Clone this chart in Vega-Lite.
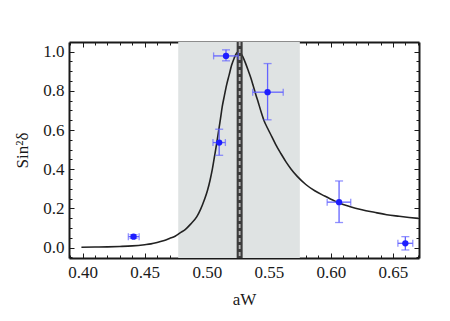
{
  "$schema": "https://vega.github.io/schema/vega-lite/v6.json",
  "width": 350,
  "height": 216,
  "autosize": {"type": "none"},
  "padding": {"left": 69, "top": 42, "right": 31, "bottom": 63},
  "background": "white",
  "config": {
    "view": {"stroke": null},
    "axis": {
      "zindex": 1,
      "grid": false,
      "labelFont": "Liberation Serif",
      "titleFont": "Liberation Serif",
      "labelFontSize": 17,
      "titleFontSize": 17,
      "titleFontWeight": "normal",
      "labelColor": "#1a1a1a",
      "titleColor": "#1a1a1a",
      "tickColor": "#1a1a1a",
      "domainColor": "#1a1a1a",
      "domainWidth": 2,
      "tickWidth": 1
    }
  },
  "resolve": {"axis": {"x": "independent", "y": "independent"}},
  "datasets": {
    "band": [{"lo": 0.477, "hi": 0.575}],
    "peak": [{"x": 0.5265}],
    "curve": [
      {"x": 0.399, "y": 0.002}, {"x": 0.41, "y": 0.003}, {"x": 0.42, "y": 0.004},
      {"x": 0.43, "y": 0.006}, {"x": 0.44, "y": 0.009}, {"x": 0.45, "y": 0.015},
      {"x": 0.455, "y": 0.019}, {"x": 0.46, "y": 0.026}, {"x": 0.465, "y": 0.035},
      {"x": 0.47, "y": 0.047}, {"x": 0.4745, "y": 0.058}, {"x": 0.4785, "y": 0.075},
      {"x": 0.4826, "y": 0.092}, {"x": 0.487, "y": 0.12}, {"x": 0.492, "y": 0.158},
      {"x": 0.495, "y": 0.195}, {"x": 0.498, "y": 0.243}, {"x": 0.5005, "y": 0.29},
      {"x": 0.5027, "y": 0.345}, {"x": 0.5045, "y": 0.4}, {"x": 0.5061, "y": 0.46},
      {"x": 0.5077, "y": 0.52}, {"x": 0.5093, "y": 0.585}, {"x": 0.511, "y": 0.655},
      {"x": 0.5125, "y": 0.72}, {"x": 0.5142, "y": 0.775}, {"x": 0.516, "y": 0.83},
      {"x": 0.518, "y": 0.88}, {"x": 0.52, "y": 0.93}, {"x": 0.522, "y": 0.965},
      {"x": 0.5241, "y": 0.993}, {"x": 0.5255, "y": 1.0}, {"x": 0.527, "y": 0.994},
      {"x": 0.529, "y": 0.975}, {"x": 0.5316, "y": 0.935}, {"x": 0.5336, "y": 0.9},
      {"x": 0.5356, "y": 0.864}, {"x": 0.5376, "y": 0.822}, {"x": 0.5396, "y": 0.779},
      {"x": 0.5417, "y": 0.737}, {"x": 0.5437, "y": 0.694}, {"x": 0.546, "y": 0.65},
      {"x": 0.549, "y": 0.609}, {"x": 0.5525, "y": 0.565}, {"x": 0.5557, "y": 0.524},
      {"x": 0.5597, "y": 0.48}, {"x": 0.5637, "y": 0.439}, {"x": 0.568, "y": 0.4},
      {"x": 0.5731, "y": 0.362}, {"x": 0.5798, "y": 0.322}, {"x": 0.587, "y": 0.29},
      {"x": 0.595, "y": 0.263}, {"x": 0.603, "y": 0.238}, {"x": 0.6066, "y": 0.228},
      {"x": 0.615, "y": 0.21}, {"x": 0.625, "y": 0.193}, {"x": 0.635, "y": 0.18},
      {"x": 0.645, "y": 0.168}, {"x": 0.655, "y": 0.16}, {"x": 0.663, "y": 0.154},
      {"x": 0.6705, "y": 0.149}
    ],
    "pts": [
      {"x": 0.441, "y": 0.056, "xlo": 0.4368, "xhi": 0.4455, "ylo": 0.047, "yhi": 0.066},
      {"x": 0.510, "y": 0.536, "xlo": 0.505, "xhi": 0.515, "ylo": 0.471, "yhi": 0.604},
      {"x": 0.5155, "y": 0.978, "xlo": 0.5055, "xhi": 0.5254, "ylo": 0.953, "yhi": 1.009},
      {"x": 0.549, "y": 0.793, "xlo": 0.537, "xhi": 0.5616, "ylo": 0.652, "yhi": 0.939},
      {"x": 0.6066, "y": 0.232, "xlo": 0.597, "xhi": 0.616, "ylo": 0.128, "yhi": 0.34},
      {"x": 0.660, "y": 0.022, "xlo": 0.654, "xhi": 0.666, "ylo": -0.012, "yhi": 0.056}
    ]
  },
  "layer": [
    {
      "data": {"name": "band"},
      "mark": {"type": "rect", "color": "#dfe3e3"},
      "encoding": {
        "x": {"field": "lo", "type": "quantitative",
              "scale": {"domain": [0.389, 0.671], "nice": false, "zero": false},
              "axis": {"orient": "bottom", "values": [0.4, 0.45, 0.5, 0.55, 0.6, 0.65], "format": ".2f",
                       "ticks": false, "domain": true, "labelPadding": 6, "title": "aW", "titlePadding": 11}},
        "x2": {"field": "hi"}
      }
    },
    {
      "data": {"name": "curve"},
      "mark": {"type": "line", "color": "#222222", "strokeWidth": 1.6, "interpolate": "monotone"},
      "encoding": {
        "x": {"field": "x", "type": "quantitative",
              "axis": {"orient": "bottom", "values": [0.4, 0.45, 0.5, 0.55, 0.6, 0.65], "labels": false,
                       "domain": false, "tickSize": -5, "title": null}},
        "y": {"field": "y", "type": "quantitative",
              "scale": {"domain": [-0.053, 1.049], "nice": false, "zero": false},
              "axis": {"orient": "left", "values": [0, 0.2, 0.4, 0.6, 0.8, 1.0], "format": ".1f",
                       "ticks": false, "domain": true, "labelPadding": 5, "title": "Sin²δ", "titlePadding": 11}}
      }
    },
    {
      "data": {"name": "peak"},
      "mark": {"type": "rule", "color": "#3c3c3c", "strokeWidth": 6},
      "encoding": {
        "x": {"field": "x", "type": "quantitative",
              "axis": {"orient": "bottom", "values": [0.39, 0.41, 0.42, 0.43, 0.44, 0.46, 0.47, 0.48, 0.49, 0.51, 0.52, 0.53, 0.54, 0.56, 0.57, 0.58, 0.59, 0.61, 0.62, 0.63, 0.64, 0.66, 0.67],
                       "labels": false, "domain": false, "tickSize": -3, "title": null}}
      }
    },
    {
      "data": {"name": "peak"},
      "mark": {"type": "rule", "color": "#b4b4b4", "strokeWidth": 1.8, "strokeDash": [4, 3]},
      "encoding": {
        "x": {"field": "x", "type": "quantitative",
              "axis": {"orient": "top", "values": [0.4, 0.45, 0.5, 0.55, 0.6, 0.65], "labels": false,
                       "domain": true, "tickSize": -5, "title": null}}
      }
    },
    {
      "data": {"name": "pts"},
      "mark": {"type": "rule", "color": "#6464ff", "strokeWidth": 1.3},
      "encoding": {
        "x": {"field": "xlo", "type": "quantitative",
              "axis": {"orient": "top", "values": [0.39, 0.41, 0.42, 0.43, 0.44, 0.46, 0.47, 0.48, 0.49, 0.51, 0.52, 0.53, 0.54, 0.56, 0.57, 0.58, 0.59, 0.61, 0.62, 0.63, 0.64, 0.66, 0.67],
                       "labels": false, "domain": false, "tickSize": -3, "title": null}},
        "x2": {"field": "xhi"},
        "y": {"field": "y", "type": "quantitative",
              "axis": {"orient": "left", "values": [-0.05, 0.05, 0.1, 0.15, 0.25, 0.3, 0.35, 0.45, 0.5, 0.55, 0.65, 0.7, 0.75, 0.85, 0.9, 0.95],
                       "labels": false, "domain": false, "tickSize": -3, "title": null}}
      }
    },
    {
      "data": {"name": "pts"},
      "mark": {"type": "rule", "color": "#6464ff", "strokeWidth": 1.3},
      "encoding": {
        "x": {"field": "x", "type": "quantitative", "axis": null},
        "y": {"field": "ylo", "type": "quantitative",
              "axis": {"orient": "right", "values": [0, 0.2, 0.4, 0.6, 0.8, 1.0], "labels": false,
                       "domain": true, "tickSize": -5, "title": null}},
        "y2": {"field": "yhi"}
      }
    },
    {
      "data": {"name": "pts"},
      "mark": {"type": "tick", "orient": "vertical", "color": "#6464ff", "size": 7, "thickness": 1.3},
      "encoding": {
        "x": {"field": "xlo", "type": "quantitative", "axis": null},
        "y": {"field": "y", "type": "quantitative",
              "axis": {"orient": "right", "values": [-0.05, 0.05, 0.1, 0.15, 0.25, 0.3, 0.35, 0.45, 0.5, 0.55, 0.65, 0.7, 0.75, 0.85, 0.9, 0.95],
                       "labels": false, "domain": false, "tickSize": -3, "title": null}}
      }
    },
    {
      "data": {"name": "pts"},
      "mark": {"type": "tick", "orient": "vertical", "color": "#6464ff", "size": 7, "thickness": 1.3},
      "encoding": {
        "x": {"field": "xhi", "type": "quantitative", "axis": null},
        "y": {"field": "y", "type": "quantitative",
              "axis": {"orient": "left", "values": [0, 0.2, 0.4, 0.6, 0.8, 1.0], "labels": false,
                       "domain": false, "tickSize": -5, "title": null}}
      }
    },
    {
      "data": {"name": "pts"},
      "mark": {"type": "tick", "orient": "horizontal", "color": "#6464ff", "size": 8, "thickness": 1.3},
      "encoding": {
        "x": {"field": "x", "type": "quantitative", "axis": null},
        "y": {"field": "ylo", "type": "quantitative", "axis": null}
      }
    },
    {
      "data": {"name": "pts"},
      "mark": {"type": "tick", "orient": "horizontal", "color": "#6464ff", "size": 8, "thickness": 1.3},
      "encoding": {
        "x": {"field": "x", "type": "quantitative", "axis": null},
        "y": {"field": "yhi", "type": "quantitative", "axis": null}
      }
    },
    {
      "data": {"name": "pts"},
      "mark": {"type": "point", "filled": true, "color": "#1e1eff", "size": 40, "opacity": 1},
      "encoding": {
        "x": {"field": "x", "type": "quantitative", "axis": null},
        "y": {"field": "y", "type": "quantitative", "axis": null}
      }
    }
  ]
}
